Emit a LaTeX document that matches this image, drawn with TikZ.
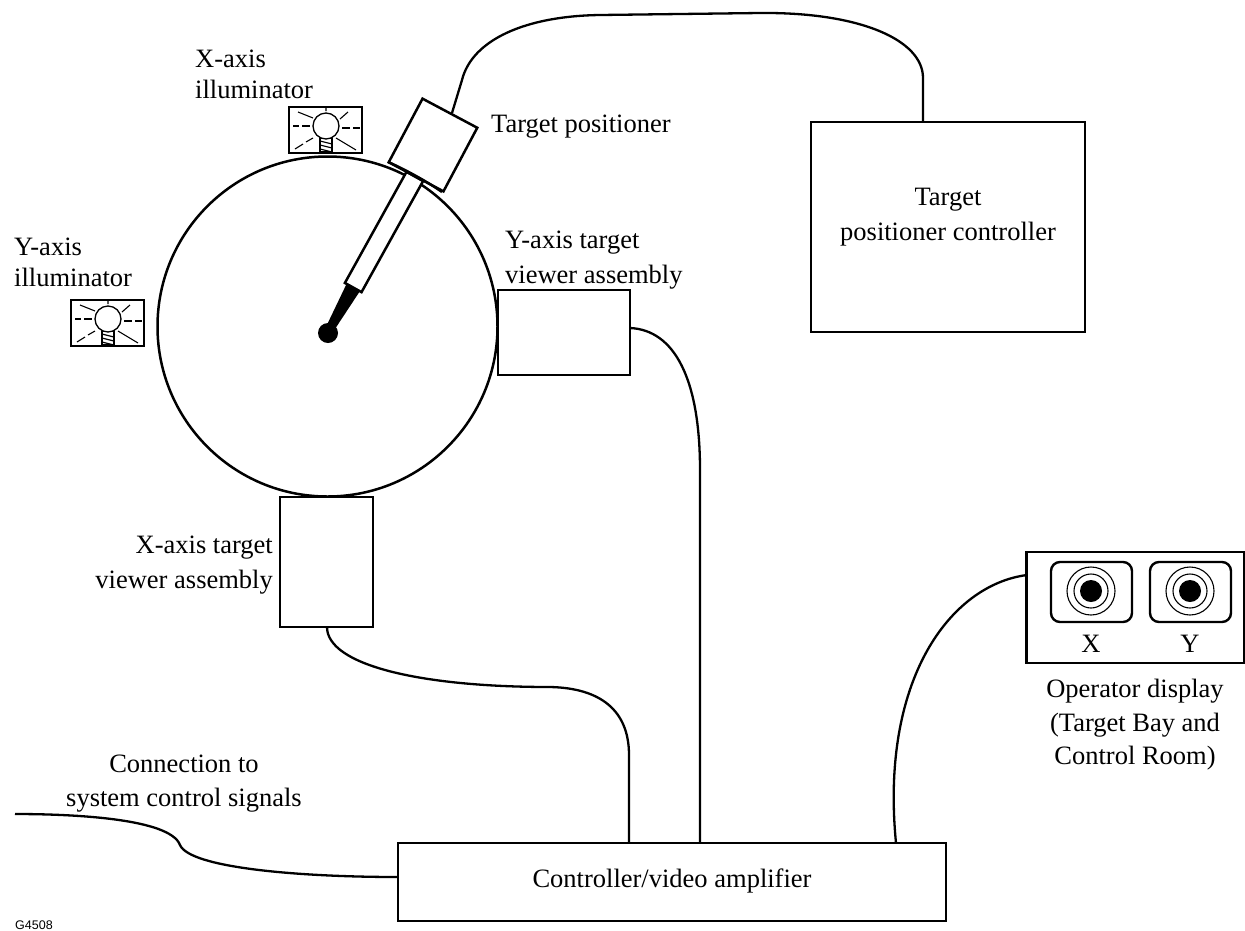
\documentclass[tikz,border=0pt]{standalone}
\usepackage{fontspec}
\setmainfont{Liberation Serif}
\newfontfamily\tagfont{Liberation Sans}
\tikzset{
  box/.style={draw=black,line width=2.5pt,fill=white,inner sep=0pt,outer sep=0pt},
  wire/.style={draw=black,line width=2.3pt},
  label/.style={font=\fontsize{26.5}{33}\selectfont,align=center,inner sep=0pt},
  ray/.style={draw=black,line width=1.1pt},
  ring/.style={draw=black,line width=1.1pt},
  pics/lamp/.style={code={
    \draw[line width=2.8pt,fill=white] (-37,-19) rectangle (36,27);
    \draw[line width=1.3pt,fill=white] (-6,12) rectangle (6,26);
    \draw[line width=1.2pt] (-6,15) -- (6,18) (-6,19) -- (6,22) (-6,23) -- (6,26);
    \draw[line width=1.3pt,fill=white] (0,0) circle (13);
    \draw[ray] (0,-18) -- (0,-15) (-28,-14) -- (-13,-8) (22,-14) -- (14,-7);
    \draw[ray] (-33,0) -- (-27,0) (-24,0) -- (-16,0) (16,2) -- (24,2) (27,2) -- (34,2);
    \draw[ray] (-31,23) -- (-23,18) (-20,16) -- (-13,12) (10,12) -- (30,24);
  }},
  pics/scope/.style={code={
    \draw[line width=2.4pt,rounded corners=9pt] (-40,-29) rectangle (41,31);
    \draw[ring] (0,0) circle (24) (0,0) circle (17);
    \fill (0,0) circle (11);
  }}
}
\begin{document}
\begin{tikzpicture}[x=1pt,y=-1pt]
\useasboundingbox (0,0) rectangle (1245,930);
% boxes
\node[box,minimum width=132pt,minimum height=85pt] (yview) at (564,332.5) {};
\node[box,minimum width=93pt,minimum height=130pt] (xview) at (326.5,562) {};
\node[box,minimum width=274pt,minimum height=210pt] (pctrl) at (948,227) {};
\node[box,minimum width=548pt,minimum height=78pt] (amp) at (672,882) {};
\node[box,minimum width=218pt,minimum height=111pt] (disp) at (1135.5,607.5) {};
% chamber
\node[draw=black,line width=2.5pt,circle,minimum size=340pt,inner sep=0pt] (chamber) at (327.5,326.5) {};
% positioner
\node[box,minimum width=19pt,minimum height=127pt,rotate=-29] (rod) at (384,232) {};
\node[box,fill=white,minimum width=62pt,minimum height=72pt,rotate=-28] (pos) at (433,145) {};
\draw[line width=2.5pt] (388,162) .. controls (400,167) and (425,180) .. (442,192);
\node[circle,fill=black,minimum size=20pt,inner sep=0pt] (ball) at (328,333) {};
\fill (347,283) -- (360,291) -- (331,335) -- (324,331) -- cycle;
% lamps
\pic at (326,126) {lamp};
\pic at (108,319) {lamp};
% display scopes
\pic at (1091,591) {scope};
\pic at (1190,591) {scope};
% ports
\coordinate (c1) at (452,113);
\coordinate (c2) at (923,122);
\coordinate (c3) at (630,328);
\coordinate (c4) at (700,843);
\coordinate (c5) at (327,627);
\coordinate (c6) at (629,843);
\coordinate (c7) at (15,814);
\coordinate (c8) at (398,877);
\coordinate (c9) at (1027,575);
\coordinate (c10) at (896,843);
% wires
\draw[wire] (c1) -- (462,80) .. controls (472,40) and (525,16) .. (600,15) -- (760,13) .. controls (860,12) and (923,40) .. (923,78) -- (c2);
\draw[wire] (c3) .. controls (675,330) and (700,380) .. (700,470) -- (c4);
\draw[wire] (c5) .. controls (327,665) and (420,687) .. (550,687) .. controls (600,688) and (629,710) .. (629,755) -- (c6);
\draw[wire] (c7) .. controls (70,814) and (170,818) .. (180,845) .. controls (190,868) and (300,877) .. (c8);
\draw[wire] (c9) .. controls (950,585) and (880,680) .. (896,843) -- (c10);
% labels
\node[label,anchor=base west] (l1) at (195,67) {X-axis};
\node[label,anchor=base west] (l2) at (195,98) {illuminator};
\node[label,anchor=base west] (l3) at (14,255) {Y-axis};
\node[label,anchor=base west] (l4) at (14,286) {illuminator};
\node[label,anchor=base west] (l5) at (491,132) {Target positioner};
\node[label,anchor=base west] (l6) at (505,248) {Y-axis target};
\node[label,anchor=base west] (l7) at (505,283) {viewer assembly};
\node[label,anchor=base] (l8) at (948,205) {Target};
\node[label,anchor=base] (l9) at (948,240) {positioner controller};
\node[label,anchor=base east] (l10) at (273,553) {X-axis target};
\node[label,anchor=base east] (l11) at (273,588) {viewer assembly};
\node[label,anchor=base] (l12) at (184,772) {Connection to};
\node[label,anchor=base] (l13) at (184,806) {system control signals};
\node[label,anchor=base] (l14) at (672,887) {Controller/video amplifier};
\node[label,anchor=base] (l15) at (1091,652) {X};
\node[label,anchor=base] (l16) at (1190,652) {Y};
\node[label,anchor=base] (l17) at (1135,697) {Operator display};
\node[label,anchor=base] (l18) at (1135,731) {(Target Bay and};
\node[label,anchor=base] (l19) at (1135,764) {Control Room)};
\node[anchor=base west,inner sep=0pt,font=\tagfont\fontsize{12.5}{14}\selectfont] (tag) at (15,929) {G4508};
\end{tikzpicture}
\end{document}
